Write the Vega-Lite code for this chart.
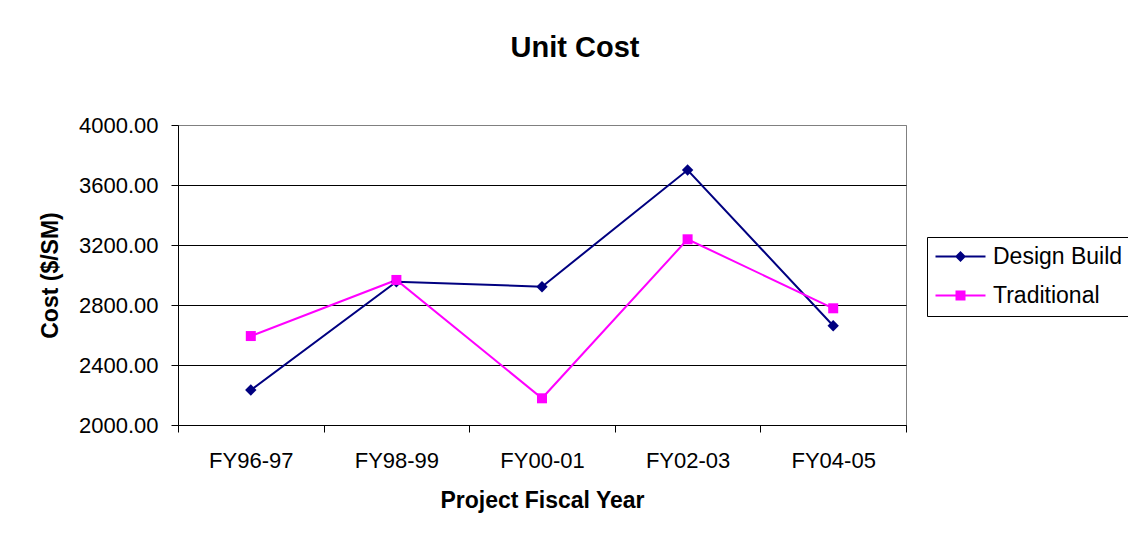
{
  "$schema": "https://vega.github.io/schema/vega-lite/v6.json",
  "width": 728,
  "height": 300,
  "autosize": {"type": "none"},
  "padding": {"left": 178, "top": 125, "right": 222, "bottom": 115},
  "background": "white",
  "title": {
    "text": "Unit Cost",
    "font": "Liberation Sans",
    "fontSize": 29,
    "fontWeight": "bold",
    "color": "black",
    "anchor": "middle",
    "dx": 33,
    "baseline": "alphabetic",
    "offset": 28
  },
  "data": {
    "values": [
      {"year": "FY96-97", "series": "Design Build", "cost": 2233},
      {"year": "FY98-99", "series": "Design Build", "cost": 2955},
      {"year": "FY00-01", "series": "Design Build", "cost": 2922},
      {"year": "FY02-03", "series": "Design Build", "cost": 3700},
      {"year": "FY04-05", "series": "Design Build", "cost": 2662},
      {"year": "FY96-97", "series": "Traditional", "cost": 2593},
      {"year": "FY98-99", "series": "Traditional", "cost": 2967},
      {"year": "FY00-01", "series": "Traditional", "cost": 2178},
      {"year": "FY02-03", "series": "Traditional", "cost": 3238},
      {"year": "FY04-05", "series": "Traditional", "cost": 2778}
    ]
  },
  "encoding": {
    "x": {
      "field": "year",
      "type": "ordinal",
      "sort": null,
      "scale": {"type": "band", "paddingInner": 0, "paddingOuter": 0},
      "axis": {
        "title": "Project Fiscal Year",
        "labelAngle": 0,
        "tickBand": "extent",
        "tickSize": 7,
        "labelPadding": 18,
        "titlePadding": 18,
        "grid": false
      }
    },
    "y": {
      "field": "cost",
      "type": "quantitative",
      "scale": {"domain": [2000, 4000], "nice": false, "zero": false},
      "axis": {
        "title": "Cost ($/SM)",
        "values": [2000, 2400, 2800, 3200, 3600, 4000],
        "format": ".2f",
        "tickSize": 7,
        "labelPadding": 13,
        "titlePadding": 16,
        "grid": true,
        "gridColor": {"condition": {"test": "datum.value >= 4000", "value": "#808080"}, "value": "black"}
      }
    },
    "color": {
      "field": "series",
      "type": "nominal",
      "scale": {"domain": ["Design Build", "Traditional"], "range": ["#000080", "#FF00FF"]},
      "legend": {
        "title": null,
        "orient": "none",
        "legendX": 749,
        "legendY": 112,
        "direction": "vertical",
        "strokeColor": "black",
        "fillColor": "white",
        "padding": 8,
        "cornerRadius": 0,
        "rowPadding": 15,
        "symbolSize": 400,
        "symbolStrokeWidth": 0,
        "symbolOffset": 14,
        "labelOffset": 21,
        "labelFontSize": 23,
        "labelFont": "Liberation Sans",
        "labelColor": "black",
        "labelLimit": 300,
        "encode": {
          "symbols": {
            "update": {
              "shape": {"signal": "datum.value === 'Design Build' ? 'M-2.5,-0.1L-0.45,-0.1L0,-0.55L0.45,-0.1L2.5,-0.1L2.5,0.1L0.45,0.1L0,0.55L-0.45,0.1L-2.5,0.1Z' : 'M-2.5,-0.1L-0.5,-0.1L-0.5,-0.5L0.5,-0.5L0.5,-0.1L2.5,-0.1L2.5,0.1L0.5,0.1L0.5,0.5L-0.5,0.5L-0.5,0.1L-2.5,0.1Z'"},
              "fill": {"signal": "datum.value === 'Design Build' ? '#000080' : '#FF00FF'"},
              "strokeWidth": {"value": 0},
              "opacity": {"value": 1},
              "fillOpacity": {"value": 1}
            }
          }
        }
      }
    }
  },
  "layer": [
    {"mark": {"type": "line", "strokeWidth": 2}},
    {
      "transform": [{"filter": "datum.series === 'Design Build'"}],
      "mark": {"type": "point", "filled": true, "opacity": 1, "shape": "diamond", "size": 130}
    },
    {
      "transform": [{"filter": "datum.series === 'Traditional'"}],
      "mark": {"type": "point", "filled": true, "opacity": 1, "shape": "square", "size": 100}
    }
  ],
  "config": {
    "view": {"stroke": "#808080", "strokeWidth": 1},
    "axis": {
      "labelFont": "Liberation Sans",
      "labelFontSize": 22,
      "labelColor": "black",
      "titleFont": "Liberation Sans",
      "titleFontSize": 23,
      "titleFontWeight": "bold",
      "titleColor": "black",
      "domainColor": "black",
      "domainWidth": 1,
      "tickColor": "black",
      "tickWidth": 1,
      "gridWidth": 1,
      "gridOpacity": 1
    }
  }
}
